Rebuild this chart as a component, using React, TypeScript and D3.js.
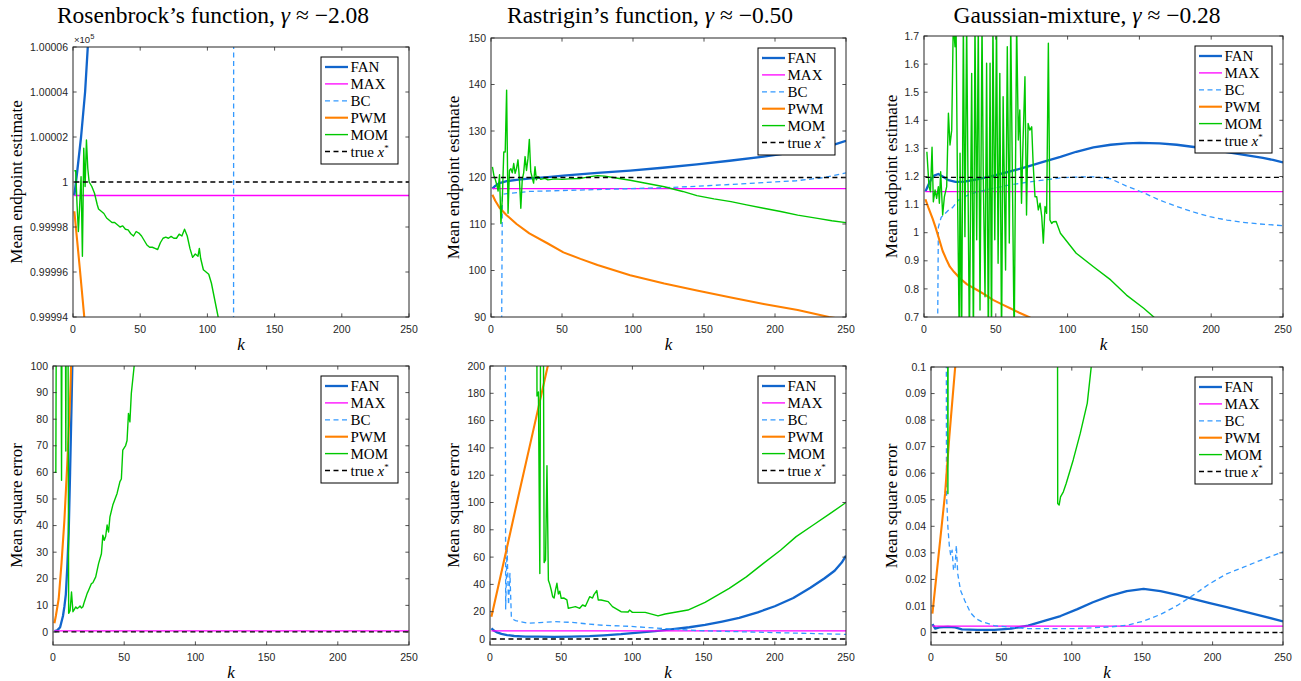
import React from "react";
import * as d3 from "d3";

type Pt = [number, number];

// ---- shared ticks ----
const kTicks = [0, 50, 100, 150, 200, 250];

// ---- Rosenbrock, mean endpoint estimate (values shown x10^5) ----
const rosenEstTicks = [0.99994, 0.99996, 0.99998, 1, 1.00002, 1.00004, 1.00006];
const rosenEstTickLabels = ["0.99994", "0.99996", "0.99998", "1", "1.00002", "1.00004", "1.00006"];
const rosenEstFAN: Pt[] = [[1, 0.999994], [3, 1.000004], [6, 1.00002], [9, 1.00004], [11, 1.00006], [12, 1.000066]];
const rosenEstMAX: Pt[] = [[1, 0.999994], [250, 0.999994]];
const rosenEstBC: Pt[] = [[1, 0.999], [119, 0.999], [120, 1.001], [250, 1.001]];
const rosenEstPWM: Pt[] = [[1, 0.999987], [5, 0.999962], [9, 0.999936]];
const rosenEstMOM: Pt[] = [
  [1, 1.000005], [2, 1.000005], [3, 0.99999], [4, 0.999978], [5, 0.99999], [6, 1.0000024], [7, 0.999967],
  [8, 1.000015], [9, 0.999998], [10, 1.0000187], [11, 1.000006], [12, 1.0], [14, 0.999998], [16, 0.999995],
  [18, 0.99999], [19, 0.999988], [21, 0.999987], [23, 0.999986], [25, 0.999984], [27, 0.999983],
  [29, 0.999982], [31, 0.999982], [33, 0.999981], [35, 0.99998], [37, 0.9999805], [39, 0.999979],
  [41, 0.9999787], [43, 0.999977], [45, 0.999976], [47, 0.999978], [49, 0.9999773], [51, 0.999976],
  [53, 0.999974], [55, 0.999972], [57, 0.999971], [59, 0.999971], [61, 0.9999705], [63, 0.99997],
  [65, 0.999973], [67, 0.999975], [69, 0.9999755], [71, 0.999975], [73, 0.9999758], [75, 0.999975],
  [77, 0.999975], [79, 0.9999768], [81, 0.999976], [83, 0.999979], [85, 0.999976], [87, 0.9999705],
  [89, 0.9999665], [91, 0.999968], [93, 0.999967], [94, 0.9999705], [95, 0.999966], [97, 0.999961],
  [99, 0.99996], [101, 0.999959], [103, 0.999955], [105, 0.999949], [107, 0.999943], [108, 0.99994],
  [110, 0.999934],
];
const rosenEstTrue: Pt[] = [[1, 1], [250, 1]];

// ---- Rastrigin, mean endpoint estimate ----
const rastEstTicks = [90, 100, 110, 120, 130, 140, 150];
const rastEstFAN: Pt[] = [
  [1, 117.6], [3, 118.2], [6, 118.8], [11, 119.2], [18, 119.5], [28, 119.8], [40, 120.1], [51, 120.4],
  [75, 121.0], [98, 121.5], [121, 122.1], [145, 122.8], [168, 123.6], [192, 124.5], [215, 125.5],
  [230, 126.3], [240, 126.9], [250, 127.9],
];
const rastEstMAX: Pt[] = [[1, 117.6], [250, 117.6]];
const rastEstBC: Pt[] = [
  [1, 60], [7, 60], [8, 116.4], [10, 116.5], [27, 117.0], [50, 117.2], [75, 117.4], [98, 117.6],
  [121, 117.8], [145, 118.1], [168, 118.5], [192, 118.9], [215, 119.3], [235, 120.0], [250, 121.0],
];
const rastEstPWM: Pt[] = [
  [1, 116.3], [3, 115.0], [6, 113.5], [11, 111.9], [18, 110.0], [27, 108.0], [40, 105.8], [51, 103.9],
  [63, 102.5], [75, 101.2], [98, 99.0], [122, 97.2], [145, 95.7], [169, 94.2], [192, 92.8], [216, 91.5],
  [238, 90.0], [250, 89.4],
];
const rastEstMOM: Pt[] = [
  [1, 122.3], [2, 120.5], [3, 119.6], [4, 118.5], [5, 117.1], [6, 120.6], [7, 110.1], [8, 115.8],
  [9, 125.5], [10, 125.5], [11, 138.8], [12, 112.3], [13, 121.5], [14, 121.9], [15, 121.0], [16, 123.0],
  [17, 120.9], [18, 122.0], [19, 123.8], [20, 119.8], [21, 113.4], [22, 119.5], [23, 121.0], [24, 124.5],
  [25, 121.5], [26, 124.0], [27, 128.2], [28, 121.2], [29, 120.0], [30, 118.8], [31, 122.3], [32, 119.5],
  [33, 120.2], [35, 119.6], [38, 119.8], [40, 119.5], [45, 119.7], [50, 119.6], [55, 119.7], [63, 119.8],
  [70, 120.2], [75, 120.4], [80, 120.3], [86, 120.0], [98, 119.4], [110, 118.7], [122, 118.0],
  [135, 117.0], [145, 116.1], [157, 115.4], [169, 114.8], [180, 114.1], [192, 113.4], [204, 112.7],
  [216, 111.9], [230, 111.2], [240, 110.7], [250, 110.3],
];
const rastEstTrue: Pt[] = [[1, 120], [250, 120]];

// ---- Gaussian mixture, mean endpoint estimate ----
const gaussEstTicks = [0.7, 0.8, 0.9, 1, 1.1, 1.2, 1.3, 1.4, 1.5, 1.6, 1.7];
const gaussEstFAN: Pt[] = [
  [1, 1.146], [3, 1.17], [5, 1.19], [7, 1.203], [10, 1.209], [13, 1.2], [17, 1.187], [22, 1.181],
  [28, 1.182], [37, 1.19], [48, 1.202], [60, 1.218], [72, 1.235], [83, 1.252], [95, 1.27], [106, 1.288],
  [118, 1.304], [130, 1.313], [141, 1.318], [150, 1.32], [164, 1.318], [176, 1.313], [188, 1.305],
  [200, 1.296], [212, 1.286], [224, 1.276], [236, 1.266], [243, 1.259], [250, 1.25],
];
const gaussEstMAX: Pt[] = [[1, 1.146], [250, 1.146]];
const gaussEstBC: Pt[] = [
  [1, 0.3], [9, 0.3], [10, 1.02], [12, 1.055], [17, 1.08], [20, 1.09], [24, 1.116], [31, 1.135],
  [37, 1.145], [48, 1.158], [60, 1.17], [72, 1.18], [83, 1.187], [95, 1.195], [106, 1.198], [118, 1.199],
  [130, 1.192], [141, 1.166], [153, 1.142], [164, 1.116], [176, 1.093], [188, 1.073], [199, 1.057],
  [211, 1.045], [222, 1.037], [234, 1.031], [250, 1.025],
];
const gaussEstPWM: Pt[] = [
  [1, 1.119], [3, 1.09], [6, 1.05], [8, 1.02], [10, 0.986], [13, 0.935], [16, 0.9], [18, 0.879],
  [21, 0.86], [25, 0.838], [30, 0.816], [37, 0.796], [43, 0.778], [48, 0.761], [54, 0.746], [60, 0.731],
  [66, 0.716], [73, 0.7], [76, 0.692],
];
const gaussEstMOM: Pt[] = [
  [2, 1.288], [3.5, 1.164], [4.5, 1.146], [5.6, 1.304], [6.5, 1.11], [7.7, 1.152], [8.8, 1.122],
  [10, 1.164], [10.7, 1.105], [11.6, 1.217], [13, 1.063], [14.2, 1.128], [15.8, 1.164], [17, 1.425],
  [18.1, 1.312], [19.3, 1.365], [20.4, 1.75], [21.6, 1.662], [22.3, 1.75], [23.4, 1.12], [24.6, 0.6],
  [25.1, 1.283], [26.2, 0.6], [27.4, 1.75], [28.5, 0.986], [29.7, 1.75], [31.6, 0.6], [33.2, 1.567],
  [34.4, 0.6], [35.5, 1.75], [36.7, 0.975], [37.8, 1.75], [39, 0.725], [40.4, 1.75], [41.3, 1.188],
  [42.5, 0.772], [43.6, 1.603], [44.8, 0.6], [46, 1.603], [47, 0.6], [48, 1.75], [49.3, 0.975],
  [50.5, 1.75], [51.6, 0.891], [52.8, 1.567], [54, 0.6], [55.1, 1.484], [56.8, 0.867], [58, 1.662],
  [59.4, 0.963], [60.4, 1.75], [61.7, 1.128], [62.8, 0.6], [64.5, 1.75], [65.7, 1.33], [66.7, 1.437],
  [67.9, 1.105], [69, 1.33], [70.3, 1.555], [71.4, 1.063], [72.5, 1.389], [73.7, 1.365], [75, 1.377],
  [76, 1.247], [77.3, 1.128], [78.5, 1.128], [79.6, 1.081], [80.8, 1.105], [82, 1.057], [83.1, 0.963],
  [84.3, 1.093], [85.4, 1.069], [86.6, 1.674], [87.7, 1.045], [88.9, 1.033], [90, 1.039], [92, 1.04],
  [95, 0.998], [106, 0.927], [118, 0.879], [130, 0.832], [141, 0.778], [153, 0.731], [160, 0.7],
  [163, 0.69],
];
const gaussEstTrue: Pt[] = [[1, 1.197], [250, 1.197]];

// ---- Rosenbrock, mean square error ----
const rosenMseTicks = [0, 10, 20, 30, 40, 50, 60, 70, 80, 90, 100];
const rosenMseFAN: Pt[] = [
  [1, 0.3], [3, 0.6], [5, 1.8], [7, 6], [8, 9.5], [9, 14], [10, 24], [11, 37], [12, 60], [13, 85], [14, 112],
];
const rosenMseMAX: Pt[] = [[1, 0.4], [250, 0.4]];
const rosenMseBC: Pt[] = [];
const rosenMsePWM: Pt[] = [
  [1, 3.3], [2, 6], [4, 12.5], [6, 26], [8, 42], [10, 63], [11, 75], [12, 88], [13, 105],
];
const rosenMseMOM: Pt[] = [
  [1, 60], [2, 60], [3, 250], [5, 250], [6, 57], [7, 250], [8, 250], [9, 68], [10, 250], [11, 7], [12, 8],
  [13, 15], [14, 7.6], [15, 8.5], [16, 9.4], [17, 8.8], [18, 9.2], [19, 9.8], [20, 9], [21, 9.5],
  [22, 11.3], [24, 14.5], [25, 15.7], [27, 18.2], [28, 18.5], [30, 20.7], [32, 25.7], [34, 29.4],
  [35, 36.4], [36, 34.5], [37, 36], [38, 40.2], [39, 37.6], [40, 43.3], [42, 47.7], [45, 52.1],
  [47, 56.5], [48, 57.5], [49, 68.4], [51, 70.1], [52, 72], [53, 82.2], [54, 79], [55, 89.7], [57, 100],
  [58, 105],
];
const rosenMseTrue: Pt[] = [[1, 0], [250, 0]];

// ---- Rastrigin, mean square error ----
const rastMseTicks = [0, 20, 40, 60, 80, 100, 120, 140, 160, 180, 200];
const rastMseFAN: Pt[] = [
  [1, 7.8], [3, 6], [5, 4.8], [8, 3.7], [12, 2.9], [17, 2.2], [25, 1.8], [34, 1.7], [45, 1.6], [57, 1.7],
  [70, 2.1], [80, 2.7], [92, 3.5], [104, 4.6], [116, 5.7], [127, 7.1], [140, 8.6], [151, 10.3],
  [163, 12.8], [175, 15.5], [188, 19.5], [200, 24], [213, 30], [225, 37.5], [235, 44.5], [242, 50],
  [247, 56], [250, 61],
];
const rastMseMAX: Pt[] = [[1, 6], [250, 6]];
const rastMseBC: Pt[] = [
  [1, 900], [10, 900], [11, 22], [12, 68], [13, 25], [14, 48], [15, 16], [16, 14.5], [18, 13.5],
  [22, 12.5], [27, 11.5], [35, 12], [45, 12.7], [57, 12.2], [69, 11], [80, 10], [98, 9.3], [122, 7.6],
  [145, 6.2], [168, 5.5], [192, 4.9], [215, 4.3], [235, 3.8], [250, 3.4],
];
const rastMsePWM: Pt[] = [[1, 16.3], [10, 58], [20, 105], [30, 151], [41, 202]];
const rastMseMOM: Pt[] = [
  [1, 900], [32, 600], [33, 178], [34, 181], [35, 48], [36, 400], [37, 400], [38, 56], [39, 58],
  [40, 127], [41, 43], [42, 40], [43, 35.9], [44, 31], [45, 30], [46, 36], [47, 40.8], [48, 33], [49, 35],
  [50, 29.8], [52, 30], [54, 28.6], [55, 22.5], [57, 23], [60, 23.7], [63, 22.5], [65, 24.9], [67, 24],
  [70, 31], [72, 30], [73, 32.5], [75, 35.5], [76, 28.6], [78, 28.6], [83, 27.4], [86, 23.7], [92, 20],
  [97, 19.8], [98, 21.2], [100, 19.5], [109, 19.5], [118, 16.9], [123, 18.3], [139, 21.2], [151, 26.9],
  [168, 37.1], [180, 45.5], [192, 55.4], [204, 65], [215, 75], [227, 83.5], [239, 92], [250, 100],
];
const rastMseTrue: Pt[] = [[1, 0], [250, 0]];

// ---- Gaussian mixture, mean square error ----
const gaussMseTicks = [0, 0.01, 0.02, 0.03, 0.04, 0.05, 0.06, 0.07, 0.08, 0.09, 0.1];
const gaussMseFAN: Pt[] = [
  [1, 0.0032], [3, 0.0015], [6, 0.0019], [12, 0.0021], [17, 0.0019], [22, 0.0012], [33, 0.001],
  [45, 0.001], [57, 0.0015], [69, 0.0026], [81, 0.0045], [92, 0.0062], [104, 0.0088], [115, 0.0114],
  [127, 0.0138], [139, 0.0156], [151, 0.0164], [163, 0.0156], [175, 0.0142], [186, 0.0127],
  [198, 0.0111], [210, 0.0096], [222, 0.008], [234, 0.0064], [250, 0.0042],
];
const gaussMseMAX: Pt[] = [[1, 0.0024], [250, 0.0024]];
const gaussMseBC: Pt[] = [
  [1, 0.5], [10, 0.5], [11, 0.0523], [12, 0.0397], [13, 0.0328], [14, 0.029], [15, 0.031], [16, 0.0234],
  [17, 0.024], [18, 0.0328], [19, 0.0221], [21, 0.0158], [24, 0.012], [28, 0.0075], [32, 0.0052],
  [36, 0.0041], [45, 0.0026], [57, 0.0019], [69, 0.0015], [104, 0.0015], [115, 0.0018], [127, 0.0021],
  [139, 0.0027], [151, 0.0043], [163, 0.0068], [175, 0.0102], [186, 0.014], [198, 0.0184], [210, 0.0221],
  [222, 0.0246], [234, 0.0272], [250, 0.0304],
];
const gaussMsePWM: Pt[] = [[1, 0.0071], [5, 0.0272], [10, 0.0523], [13, 0.0737], [17, 0.0989], [18, 0.104]];
const gaussMseMOM: Pt[] = [
  [1, 0.5], [11, 0.5], [12, 0.0523], [13, 0.5], [89, 0.5], [90, 0.0486], [91, 0.048], [92, 0.0511],
  [94, 0.053], [96, 0.0561], [101, 0.065], [106, 0.075], [111, 0.0864], [114, 0.101], [115, 0.104],
];
const gaussMseTrue: Pt[] = [[1, 0], [250, 0]];

// ---- styles ----
const STYLES = [
  { name: "FAN", color: "#1165cc", width: 2.3, dash: "" },
  { name: "MAX", color: "#ff00ff", width: 1.3, dash: "" },
  { name: "BC", color: "#3399ff", width: 1.3, dash: "5,3.5" },
  { name: "PWM", color: "#ff8000", width: 2.1, dash: "" },
  { name: "MOM", color: "#00c800", width: 1.4, dash: "" },
  { name: "true", color: "#000000", width: 1.3, dash: "5,3.5" },
];

const SERIF = "'Liberation Serif', 'DejaVu Serif', serif";
const SANS = "'Liberation Sans', Arial, sans-serif";
const AX = "#262626";

type PanelDef = {
  id: string;
  left: number; right: number; top: number; bottom: number;
  yDomain: [number, number];
  yTicks: number[];
  yFmt: (v: number, i: number) => string;
  series: Pt[][];
  yLabel: string;
  yLabelX: number;
  exponent?: boolean;
};

const fmtPlain = (v: number) => String(+v.toFixed(4));

const panels: PanelDef[] = [
  {
    id: "p1", left: 73, right: 409, top: 47, bottom: 317, yDomain: [0.99994, 1.00006],
    yTicks: rosenEstTicks, yFmt: (_v, i) => rosenEstTickLabels[i],
    series: [rosenEstFAN, rosenEstMAX, rosenEstBC, rosenEstPWM, rosenEstMOM, rosenEstTrue],
    yLabel: "Mean endpoint estimate", yLabelX: 21.5, exponent: true,
  },
  {
    id: "p2", left: 491, right: 846, top: 38, bottom: 317, yDomain: [90, 150],
    yTicks: rastEstTicks, yFmt: fmtPlain,
    series: [rastEstFAN, rastEstMAX, rastEstBC, rastEstPWM, rastEstMOM, rastEstTrue],
    yLabel: "Mean endpoint estimate", yLabelX: 459,
  },
  {
    id: "p3", left: 924, right: 1283, top: 36, bottom: 317, yDomain: [0.7, 1.7],
    yTicks: gaussEstTicks, yFmt: fmtPlain,
    series: [gaussEstFAN, gaussEstMAX, gaussEstBC, gaussEstPWM, gaussEstMOM, gaussEstTrue],
    yLabel: "Mean endpoint estimate", yLabelX: 896.5,
  },
  {
    id: "p4", left: 53, right: 409, top: 366, bottom: 645, yDomain: [-4.9, 100],
    yTicks: rosenMseTicks, yFmt: fmtPlain,
    series: [rosenMseFAN, rosenMseMAX, rosenMseBC, rosenMsePWM, rosenMseMOM, rosenMseTrue],
    yLabel: "Mean square error", yLabelX: 22,
  },
  {
    id: "p5", left: 490, right: 846, top: 366, bottom: 645, yDomain: [-4.4, 200],
    yTicks: rastMseTicks, yFmt: fmtPlain,
    series: [rastMseFAN, rastMseMAX, rastMseBC, rastMsePWM, rastMseMOM, rastMseTrue],
    yLabel: "Mean square error", yLabelX: 459,
  },
  {
    id: "p6", left: 931, right: 1283, top: 367, bottom: 645, yDomain: [-0.0047, 0.1],
    yTicks: gaussMseTicks, yFmt: fmtPlain,
    series: [gaussMseFAN, gaussMseMAX, gaussMseBC, gaussMsePWM, gaussMseMOM, gaussMseTrue],
    yLabel: "Mean square error", yLabelX: 896.5,
  },
];

const titles = [
  { x: 213, pre: "Rosenbrock\u2019s function, ", val: "\u22122.08" },
  { x: 650, pre: "Rastrigin\u2019s function, ", val: "\u22120.50" },
  { x: 1087, pre: "Gaussian-mixture, ", val: "\u22120.28" },
];

function Legend({ right, top }: { right: number; top: number }) {
  const w = 77;
  const h = 107;
  const bx = right - 11 - w;
  const by = top + 10;
  return (
    <g>
      <rect x={bx} y={by} width={w} height={h} fill="#fff" stroke="#000" strokeWidth={1} />
      {STYLES.map((s, i) => {
        const yy = by + 10 + i * 16.9;
        return (
          <g key={s.name}>
            <line x1={bx + 4} x2={bx + 27} y1={yy} y2={yy} stroke={s.color} strokeWidth={s.width}
              strokeDasharray={s.dash || undefined} />
            <text x={bx + 29.5} y={yy} dy="0.34em" fontFamily={SERIF} fontSize={15} fill="#000">
              {s.name === "true" ? (
                <>
                  true <tspan fontStyle="italic">x</tspan>
                  <tspan fontSize={9} dy="-6">*</tspan>
                </>
              ) : s.name}
            </text>
          </g>
        );
      })}
    </g>
  );
}

function Panel({ p }: { p: PanelDef }) {
  const x = d3.scaleLinear().domain([0, 250]).range([p.left, p.right]);
  const y = d3.scaleLinear().domain(p.yDomain).range([p.bottom, p.top]);
  const line = d3.line<Pt>().x((d) => x(d[0])).y((d) => y(d[1]));
  const tl = 3.6;
  const midY = (p.top + p.bottom) / 2;
  return (
    <g>
      <defs>
        <clipPath id={`clip-${p.id}`}>
          <rect x={p.left} y={p.top} width={p.right - p.left} height={p.bottom - p.top} />
        </clipPath>
      </defs>
      <rect x={p.left} y={p.top} width={p.right - p.left} height={p.bottom - p.top} fill="#fff" />
      <g clipPath={`url(#clip-${p.id})`}>
        {p.series.map((data, i) =>
          data.length ? (
            <path key={i} d={line(data) || ""} fill="none" stroke={STYLES[i].color}
              strokeWidth={STYLES[i].width} strokeDasharray={STYLES[i].dash || undefined}
              strokeLinejoin="round" />
          ) : null
        )}
      </g>
      {/* ticks on all four sides, pointing in */}
      <g stroke={AX} strokeWidth={0.8}>
        {kTicks.map((t) => (
          <g key={`x${t}`}>
            <line x1={x(t)} x2={x(t)} y1={p.bottom} y2={p.bottom - tl} />
            <line x1={x(t)} x2={x(t)} y1={p.top} y2={p.top + tl} />
          </g>
        ))}
        {p.yTicks.map((t) => (
          <g key={`y${t}`}>
            <line x1={p.left} x2={p.left + tl} y1={y(t)} y2={y(t)} />
            <line x1={p.right} x2={p.right - tl} y1={y(t)} y2={y(t)} />
          </g>
        ))}
      </g>
      <rect x={p.left} y={p.top} width={p.right - p.left} height={p.bottom - p.top} fill="none"
        stroke={AX} strokeWidth={1} />
      <g fontFamily={SANS} fontSize={10.5} fill={AX}>
        {kTicks.map((t) => (
          <text key={`xl${t}`} x={x(t)} y={p.bottom + 16} textAnchor="middle">{t}</text>
        ))}
        {p.yTicks.map((t, i) => (
          <text key={`yl${t}`} x={p.left - 5} y={y(t)} dy="0.35em" textAnchor="end">{p.yFmt(t, i)}</text>
        ))}
      </g>
      {p.exponent && (
        <text x={p.left + 1} y={p.top - 4} fontFamily={SANS} fontSize={9.5} fill={AX}>
          {"\u00d710"}
          <tspan fontSize={7.5} dy="-4">5</tspan>
        </text>
      )}
      <Legend right={p.right} top={p.top} />
      <text transform={`translate(${p.yLabelX},${midY}) rotate(-90)`} textAnchor="middle"
        fontFamily={SERIF} fontSize={17} fill="#000">{p.yLabel}</text>
      <text x={(p.left + p.right) / 2} y={p.bottom + 33} textAnchor="middle" fontFamily={SERIF}
        fontStyle="italic" fontSize={17} fill="#000">k</text>
    </g>
  );
}

export default function App() {
  return (
    <svg width={1301} height={681} style={{ position: "absolute", left: 0, top: 0, background: "#fff" }}>
      <rect width={1301} height={681} fill="#fff" />
      {titles.map((t) => (
        <text key={t.x} x={t.x} y={23} textAnchor="middle" fontFamily={SERIF} fontSize={23.5} fill="#000">
          {t.pre}
          <tspan fontStyle="italic">{"\u03b3"}</tspan>
          {" \u2248 "}
          {t.val}
        </text>
      ))}
      {panels.map((p) => (
        <Panel key={p.id} p={p} />
      ))}
    </svg>
  );
}
